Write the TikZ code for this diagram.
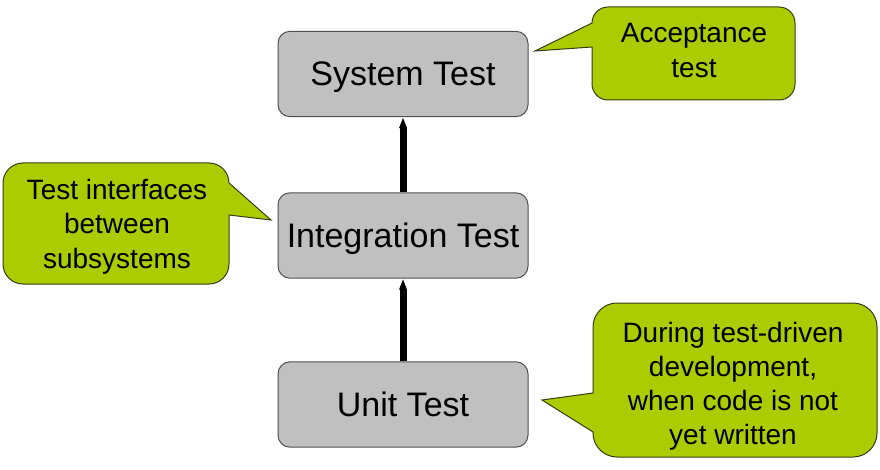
\documentclass[tikz,border=0pt]{standalone}
\usepackage{fontspec}
\setmainfont{Liberation Sans}
\usetikzlibrary{arrows.meta}
\definecolor{box_grey}{RGB}{192,192,192}
\definecolor{box_line}{RGB}{80,80,80}
\definecolor{note_green}{RGB}{170,204,0}
\definecolor{note_line}{RGB}{55,60,20}
\tikzstyle{tb}=[rectangle,rounded corners=9pt,fill=box_grey,draw=box_line,
  line width=0.75pt,minimum width=187.5pt,minimum height=64pt,inner sep=0pt,
  text depth=0pt,font=\fontsize{25.5}{30}\selectfont]
\tikzstyle{nt}=[align=center,inner sep=0pt,font=\fontsize{21}{25.7}\selectfont]
\tikzstyle{nb}=[fill=note_green,draw=note_line,line width=0.75pt]
\tikzstyle{up}=[line width=5.25pt,-{Triangle[length=8.25pt,width=5.25pt]}]

\begin{document}
\begin{tikzpicture}[x=0.75pt,y=-0.75pt]
            \useasboundingbox (0,0) rectangle (880,470);
            \node [style=tb] (0) at (403, 74) {System Test};
            \node [style=tb] (1) at (403, 235.5) {Integration Test};
            \node [style=tb] (2) at (403, 404.5) {Unit Test};
            \draw [style=up] (2) to (1);
            \draw [style=up] (1) to (0);
            \draw [style=nb] (700,7) [rounded corners=12pt] -- (795,7) -- (795,100) -- (592,100) [sharp corners] -- (592,47) -- (535,51) -- (592,23) [rounded corners=12pt] -- (592,7) -- cycle;
            \draw [style=nb] (100,163) [rounded corners=15pt] -- (3,163) -- (3,284) -- (229,284) [sharp corners] -- (229,215) -- (271,220) -- (229,183) [rounded corners=15pt] -- (229,163) -- cycle;
            \draw [style=nb] (735,303) [rounded corners=18pt] -- (877,303) -- (877,457) -- (593,457) [sharp corners] -- (593,432) -- (542,400) -- (593,393) [rounded corners=18pt] -- (593,303) -- cycle;
            \node [style=nt] (3) at (694, 50.5) {Acceptance\\test};
            \node [style=nt] (4) at (117, 226.7) {Test interfaces\\between\\subsystems};
            \node [style=nt] (5) at (733, 386.3) {During test-driven\\development,\\when code is not\\yet written};
    \end{tikzpicture}
\end{document}
